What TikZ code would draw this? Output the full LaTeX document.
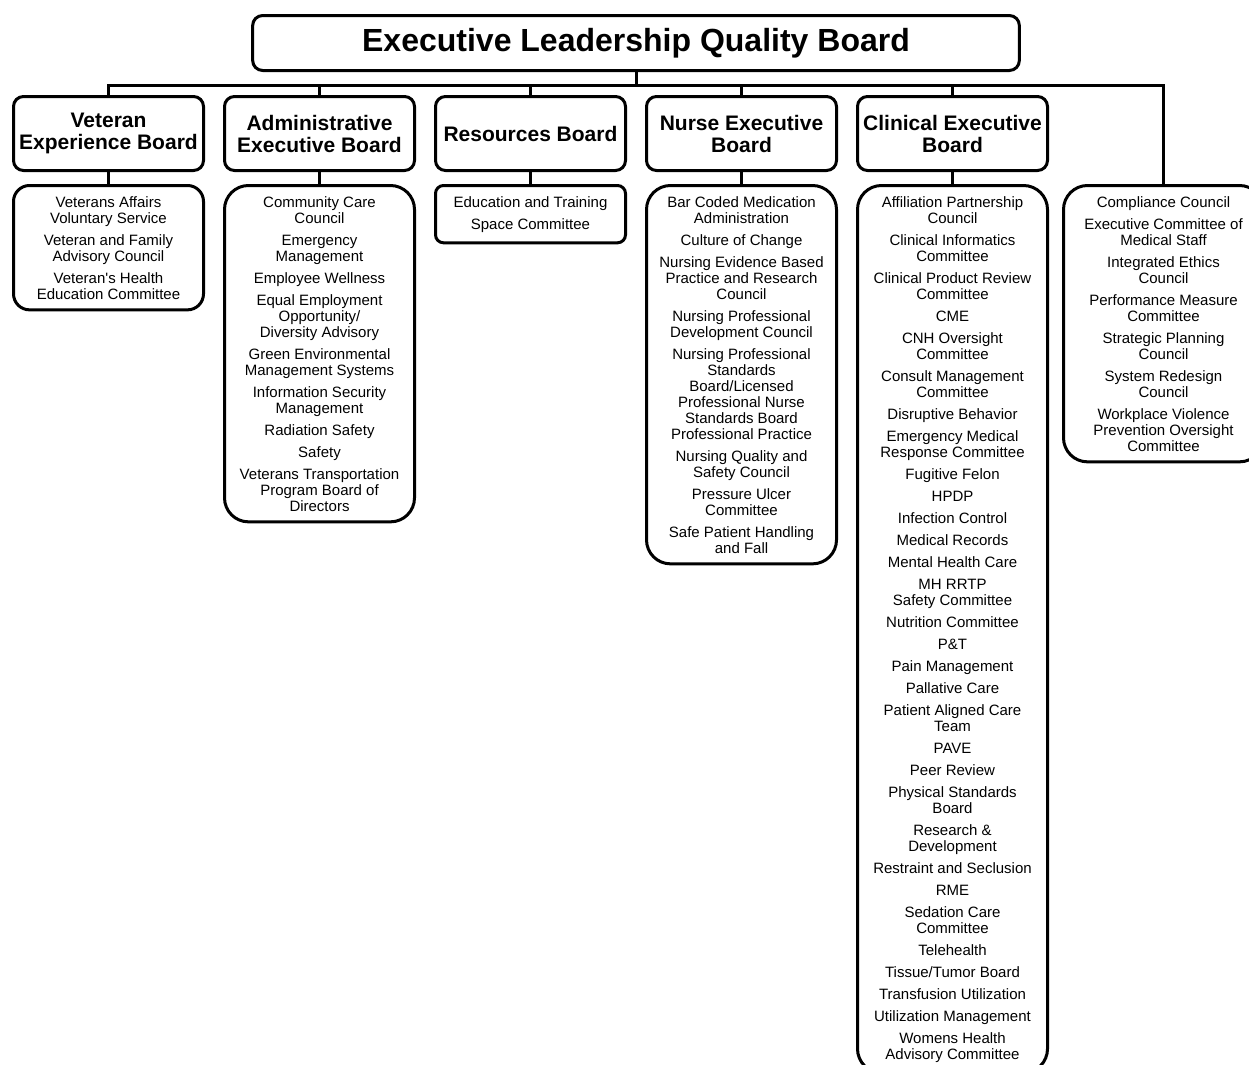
\documentclass[tikz,border=0pt]{standalone}
\usepackage{fontspec}
\setmainfont{Liberation Sans}
\begin{document}
\begin{tikzpicture}[x=0.75pt, y=0.75pt,
		every node/.style = {align=center, line width=2.25pt},
		top/.style = {draw, rounded corners=7.5pt, minimum width=575pt, minimum height=41.25pt,
			font=\fontsize{24pt}{28pt}\selectfont\bfseries},
		board/.style = {draw, rounded corners=7.5pt, minimum width=142.5pt, minimum height=55.5pt,
			font=\fontsize{15.75pt}{16.5pt}\selectfont\bfseries},
		list/.style = {draw, anchor=north, rounded corners=18pt, minimum width=142.5pt,
			inner ysep=8pt, font=\fontsize{11.25pt}{12pt}\selectfont},
		level 1/.style = {sibling distance=158.25pt, level distance=67.875pt,
			edge from parent path={(\tikzparentnode.south) -- ++(0,-13) -| (\tikzchildnode.north)}},
		level 2/.style = {level distance=37.875pt,
			edge from parent path={(\tikzparentnode.south) -- (\tikzchildnode.north)}},
		edge from parent/.style = {draw, line width=2.25pt}]
		\useasboundingbox (0,0) rectangle (1249,-1064);
		\node[top] (elqb) at (636,-43) {Executive Leadership Quality Board}
		child { node[board] (veb) {Veteran\\Experience Board}
			child { node[list, rounded corners=12pt] (vebl) {Veterans Affairs\\Voluntary Service\\[4.5pt]
				Veteran and Family\\Advisory Council\\[4.5pt]
				Veteran\textquotesingle s Health\\Education Committee} } }
		child { node[board] (aeb) {Administrative\\Executive Board}
			child { node[list] (aebl) {Community Care\\Council\\[4.5pt]
				Emergency\\Management\\[4.5pt]
				Employee Wellness\\[4.5pt]
				Equal Employment\\Opportunity/\\Diversity Advisory\\[4.5pt]
				Green Environmental\\Management Systems\\[4.5pt]
				Information Security\\Management\\[4.5pt]
				Radiation Safety\\[4.5pt]
				Safety\\[4.5pt]
				Veterans Transportation\\Program Board of\\Directors} } }
		child { node[board] (rb) {Resources Board}
			child { node[list, rounded corners=6pt] (rbl) {Education and Training\\[4.5pt]
				Space Committee} } }
		child { node[board] (neb) {Nurse Executive\\Board}
			child { node[list] (nebl) {Bar Coded Medication\\Administration\\[4.5pt]
				Culture of Change\\[4.5pt]
				Nursing Evidence Based\\Practice and Research\\Council\\[4.5pt]
				Nursing Professional\\Development Council\\[4.5pt]
				Nursing Professional\\Standards\\Board/Licensed\\Professional Nurse\\Standards Board\\Professional Practice\\[4.5pt]
				Nursing Quality and\\Safety Council\\[4.5pt]
				Pressure Ulcer\\Committee\\[4.5pt]
				Safe Patient Handling\\and Fall} } }
		child { node[board] (ceb) {Clinical Executive\\Board}
			child { node[list] (cebl) {Affiliation Partnership\\Council\\[4.5pt]
				Clinical Informatics\\Committee\\[4.5pt]
				Clinical Product Review\\Committee\\[4.5pt]
				CME\\[4.5pt]
				CNH Oversight\\Committee\\[4.5pt]
				Consult Management\\Committee\\[4.5pt]
				Disruptive Behavior\\[4.5pt]
				Emergency Medical\\Response Committee\\[4.5pt]
				Fugitive Felon\\[4.5pt]
				HPDP\\[4.5pt]
				Infection Control\\[4.5pt]
				Medical Records\\[4.5pt]
				Mental Health Care\\[4.5pt]
				MH RRTP\\Safety Committee\\[4.5pt]
				Nutrition Committee\\[4.5pt]
				P\&T\\[4.5pt]
				Pain Management\\[4.5pt]
				Pallative Care\\[4.5pt]
				Patient Aligned Care\\Team\\[4.5pt]
				PAVE\\[4.5pt]
				Peer Review\\[4.5pt]
				Physical Standards\\Board\\[4.5pt]
				Research \&\\Development\\[4.5pt]
				Restraint and Seclusion\\[4.5pt]
				RME\\[4.5pt]
				Sedation Care\\Committee\\[4.5pt]
				Telehealth\\[4.5pt]
				Tissue/Tumor Board\\[4.5pt]
				Transfusion Utilization\\[4.5pt]
				Utilization Management\\[4.5pt]
				Womens Health\\Advisory Committee} } }
		child[edge from parent path={(\tikzparentnode.south) -- ++(0,-13) -| (\tikzchildnode)}] { coordinate (misc)
			child[edge from parent path={(\tikzparentnode) -- (\tikzchildnode.north)}] { node[list, minimum width=150pt] (miscl) {Compliance Council\\[4.5pt]
				Executive Committee of\\Medical Staff\\[4.5pt]
				Integrated Ethics\\Council\\[4.5pt]
				Performance Measure\\Committee\\[4.5pt]
				Strategic Planning\\Council\\[4.5pt]
				System Redesign\\Council\\[4.5pt]
				Workplace Violence\\Prevention Oversight\\Committee} } };
\end{tikzpicture}
\end{document}
